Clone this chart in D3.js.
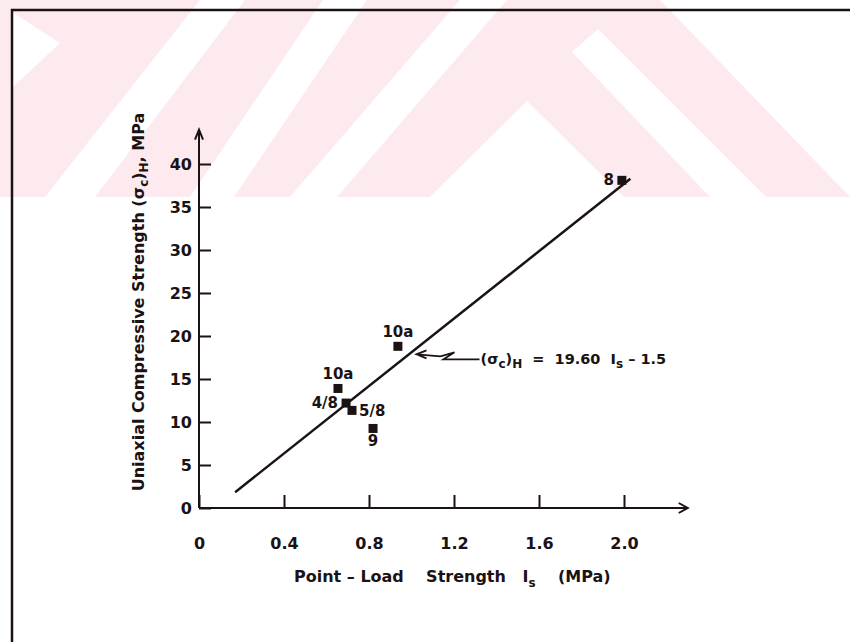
<!DOCTYPE html>
<html>
<head>
<meta charset="utf-8">
<script src="https://cdn.jsdelivr.net/npm/d3@7"></script>
<style>
body { margin: 0; background: #fff; }
svg text { font-family: "DejaVu Sans", sans-serif; font-weight: bold; fill: #1a1213; }
</style>
</head>
<body>
<div id="chart"></div>
<script>
var width = 850,
    height = 642;

// samples
var sampleLabels = ["8", "10a", "10a", "4/8", "5/8", "9"];
var pointLoad = [1.99, 0.936, 0.654, 0.692, 0.72, 0.819];   // Is, MPa
var ucs = [38.1, 18.8, 13.9, 12.2, 11.35, 9.25];            // (σc)H, MPa
var labelSide = ["left", "above", "above", "left", "right", "below"];

var xTicks = [0, 0.4, 0.8, 1.2, 1.6, 2.0];
var yTicks = [0, 5, 10, 15, 20, 25, 30, 35, 40];

// fitted line (σc)H = 19.60 Is - 1.5
var fitSlope = 19.60,
    fitIntercept = -1.5,
    fitFrom = 0.17,
    fitTo = 2.03;

var ink = "#1a1213";

var svg = d3.select("#chart")
    .append("svg")
    .attr("width", width)
    .attr("height", height);

// faint pink watermark at the top of the scan
svg.append("defs")
    .append("clipPath")
    .attr("id", "wmClip")
    .append("rect")
    .attr("width", width)
    .attr("height", 197);

var wm = svg.append("g").attr("clip-path", "url(#wmClip)");
wm.append("rect")
    .attr("width", width)
    .attr("height", 197)
    .attr("fill", "#fdeaee");

var wmGaps = [
    [[12, 12], [60, 43], [12, 88]],
    [[200, 0], [245, 0], [95, 197], [45, 197]],
    [[323, 0], [367, 0], [234, 197], [190, 197]],
    [[460, 0], [507, 0], [337, 197], [290, 197]],
    [[527, 101], [624, 197], [430, 197]],
    [[572, 52], [598, 29], [766, 197], [710, 197]],
    [[660, 0], [850, 0], [850, 197]]
];
wm.selectAll("polygon")
    .data(wmGaps)
    .enter()
    .append("polygon")
    .attr("points", d => d.join(" "))
    .attr("fill", "#fff");

// frame of the scanned page
svg.append("path")
    .attr("d", "M12,642 V10 H850")
    .attr("fill", "none")
    .attr("stroke", ink)
    .attr("stroke-width", 2.5);

var x = d3.scaleLinear().domain([0, 2.0]).range([199, 624]);
var y = d3.scaleLinear().domain([0, 40]).range([508, 164]);

// axes with arrow heads
var axisLines = svg.append("g")
    .attr("fill", "none")
    .attr("stroke", ink)
    .attr("stroke-width", 2);

axisLines.append("path")
    .attr("d", `M${x(0)},${y(0)} V${y(44)} M${x(0) - 4},${y(44) + 10} L${x(0)},${y(44)} L${x(0) + 4},${y(44) + 10}`);
axisLines.append("path")
    .attr("d", `M${x(0)},${y(0)} H${x(2.3)} M${x(2.3) - 9},${y(0) - 5} L${x(2.3)},${y(0)} L${x(2.3) - 9},${y(0) + 5}`);

var yAxis = d3.axisLeft(y)
    .tickValues(yTicks)
    .tickSizeInner(-12)
    .tickSizeOuter(0)
    .tickPadding(7)
    .tickFormat(d3.format("d"));

var xAxis = d3.axisBottom(x)
    .tickValues(xTicks)
    .tickSizeInner(-13)
    .tickSizeOuter(0)
    .tickPadding(30)
    .tickFormat(d => d === 0 ? "0" : d3.format(".1f")(d));

svg.append("g")
    .attr("transform", `translate(${x(0)},0)`)
    .call(yAxis)
    .call(g => g.select(".domain").remove())
    .call(g => g.selectAll("line").attr("stroke", ink).attr("stroke-width", 2))
    .call(g => g.selectAll("text").attr("font-size", 16).attr("font-family", null).attr("fill", ink));

svg.append("g")
    .attr("transform", `translate(0,${y(0)})`)
    .call(xAxis)
    .call(g => g.select(".domain").remove())
    .call(g => g.selectAll("line").attr("stroke", ink).attr("stroke-width", 2))
    .call(g => g.selectAll("text").attr("font-size", 16).attr("font-family", null).attr("fill", ink));

// regression line
var fit = v => fitSlope * v + fitIntercept;
svg.append("path")
    .datum([fitFrom, fitTo])
    .attr("d", d3.line().x(d => x(d)).y(d => y(fit(d))))
    .attr("fill", "none")
    .attr("stroke", ink)
    .attr("stroke-width", 2.5);

// data points
var pts = pointLoad.map((v, i) => ({ is: v, sc: ucs[i], label: sampleLabels[i], side: labelSide[i] }));

svg.append("g")
    .selectAll("rect")
    .data(pts)
    .enter()
    .append("rect")
    .attr("x", d => x(d.is) - 4.5)
    .attr("y", d => y(d.sc) - 4.5)
    .attr("width", 9)
    .attr("height", 9)
    .attr("fill", ink);

var offs = {
    left: { dx: -8, dy: 5, anchor: "end" },
    right: { dx: 7, dy: 6, anchor: "start" },
    above: { dx: 0, dy: -9, anchor: "middle" },
    below: { dx: 0, dy: 18, anchor: "middle" }
};

svg.append("g")
    .selectAll("text")
    .data(pts)
    .enter()
    .append("text")
    .attr("x", d => x(d.is) + offs[d.side].dx)
    .attr("y", d => y(d.sc) + offs[d.side].dy)
    .attr("text-anchor", d => offs[d.side].anchor)
    .attr("font-size", 15)
    .text(d => d.label);

// equation with pointer to the line
var tipX = x(1.0) + 5,
    tipY = y(fit(1.0)) + 2;

svg.append("path")
    .attr("d", `M${tipX},${tipY} L${tipX + 24},${tipY + 2} L${tipX + 38},${tipY - 2} L${tipX + 27},${tipY + 5} L${tipX + 63},${tipY + 5}` +
        ` M${tipX + 10},${tipY - 4} L${tipX},${tipY} L${tipX + 10},${tipY + 4}`)
    .attr("fill", "none")
    .attr("stroke", ink)
    .attr("stroke-width", 1.8);

var eq = svg.append("text")
    .attr("x", tipX + 64)
    .attr("y", tipY + 10)
    .attr("font-size", 14.5)
    .style("white-space", "pre");
eq.append("tspan").text("(σ");
eq.append("tspan").attr("dy", 4).attr("font-size", 12).text("c");
eq.append("tspan").attr("dy", -4).text(")");
eq.append("tspan").attr("dy", 4).attr("font-size", 12).text("H");
eq.append("tspan").attr("dy", -4).text("  =  19.60  I");
eq.append("tspan").attr("dy", 4).attr("font-size", 12).text("s");
eq.append("tspan").attr("dy", -4).text(" – 1.5");

// axis titles
var yt = svg.append("text")
    .attr("transform", "translate(144,302) rotate(-90)")
    .attr("text-anchor", "middle")
    .attr("font-size", 16);
yt.append("tspan").text("Uniaxial Compressive Strength (σ");
yt.append("tspan").attr("dy", 4).attr("font-size", 12).text("c");
yt.append("tspan").attr("dy", -4).text(")");
yt.append("tspan").attr("dy", 4).attr("font-size", 12).text("H");
yt.append("tspan").attr("dy", -4).text(", MPa");

var xt = svg.append("text")
    .attr("x", 294)
    .attr("y", 582)
    .attr("font-size", 16)
    .style("white-space", "pre");
xt.append("tspan").text("Point – Load    Strength   I");
xt.append("tspan").attr("dy", 5).attr("font-size", 12).text("s");
xt.append("tspan").attr("dy", -5).text("    (MPa)");
</script>
</body>
</html>
